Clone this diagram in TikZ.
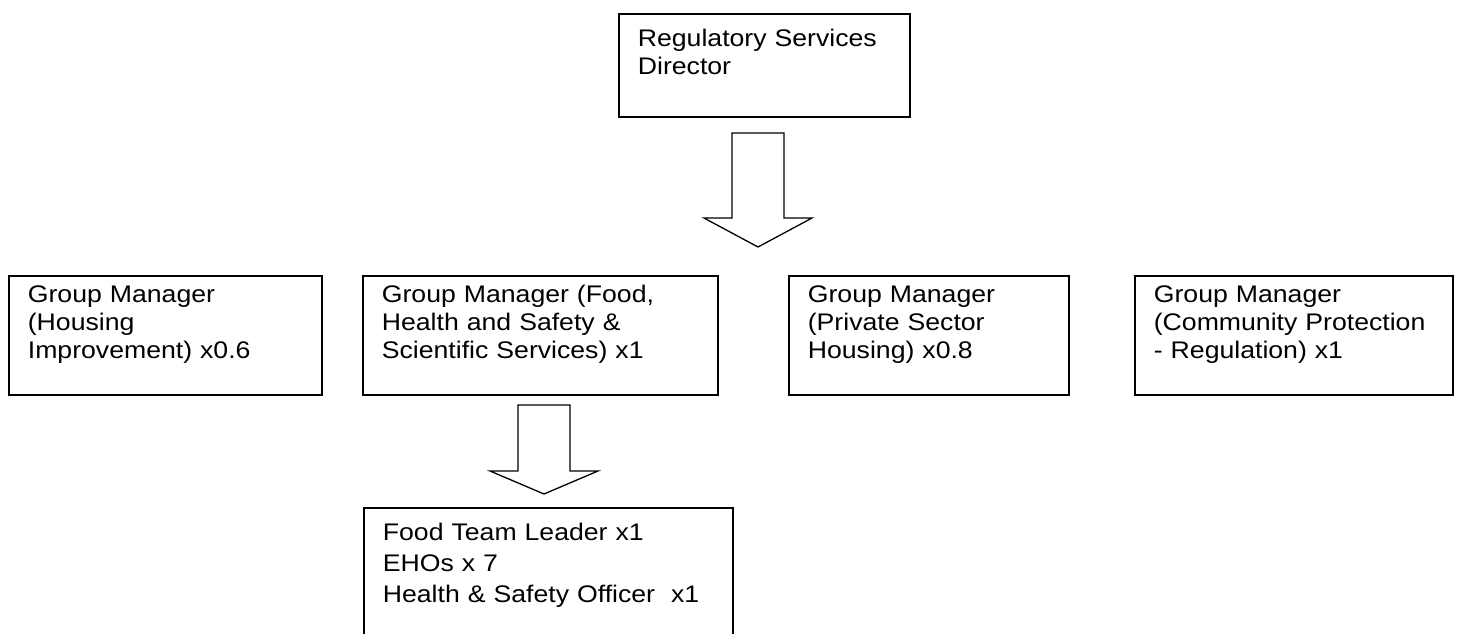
\documentclass[tikz,border=0pt]{standalone}
\usepackage{fontspec}
\setmainfont{Liberation Sans}[FakeStretch=1.11]
\usetikzlibrary{positioning,calc}

\tikzset{
  orgbox/.style={draw, line width=0.85pt, rectangle, anchor=north west,
    align=left, inner xsep=9.5pt, inner ysep=4pt, text height=9.5pt,
    text depth=42pt, font=\fontsize{12}{13.8}\selectfont},
  blockarrow/.style={draw, line width=0.65pt, line join=miter}
}

\begin{document}
\begin{tikzpicture}[x=0.5pt, y=-0.5pt]

% --- PAGE (pixel grid, y downwards) ---
\clip (0,0) rectangle (1458,633);

% --- DIRECTOR ---
\node[orgbox, text width=126.5pt, text height=12.5pt, text depth=31pt]
  (dir) at (618,13) {Regulatory Services\\Director};

% --- GROUP MANAGERS ---
\node[orgbox, text width=137.5pt] (mgrHousing) at (8,275)
  {Group Manager\\(Housing\\Improvement) x0.6};
\node[orgbox, text width=158.5pt] (mgrFood) at (362,275)
  {Group Manager (Food,\\Health and Safety \&\\Scientific Services) x1};
\node[orgbox, text width=121pt] (mgrPrivate) at (788,275)
  {Group Manager\\(Private Sector\\Housing) x0.8};
\node[orgbox, text width=140pt] (mgrCommunity) at (1134,275)
  {Group Manager\\(Community Protection\\- Regulation) x1};

% --- FOOD TEAM (runs off the bottom of the page) ---
\node[orgbox, text width=165.5pt, text height=12.5pt, text depth=60pt,
  font=\fontsize{12}{15.5}\selectfont] (foodTeam) at (363,507)
  {Food Team Leader x1\\EHOs x 7\\Health \& Safety Officer\ \ x1};

% --- BLOCK ARROWS ---
\coordinate (dirArrow) at (758,133);
\coordinate (foodArrow) at (544,405);
% each entry: arrow top / shaft length / head length
\foreach \a/\len/\hd in {dirArrow/85/29, foodArrow/66/23} {
  \draw[blockarrow] ($(\a)+(-26,0)$) -- ++(52,0) -- ++(0,\len)
    -- ++(28,0) -- ($(\a)+(0,\len+\hd)$) -- ($(\a)+(-54,\len)$)
    -- ++(28,0) -- cycle;
}

\end{tikzpicture}
\end{document}
